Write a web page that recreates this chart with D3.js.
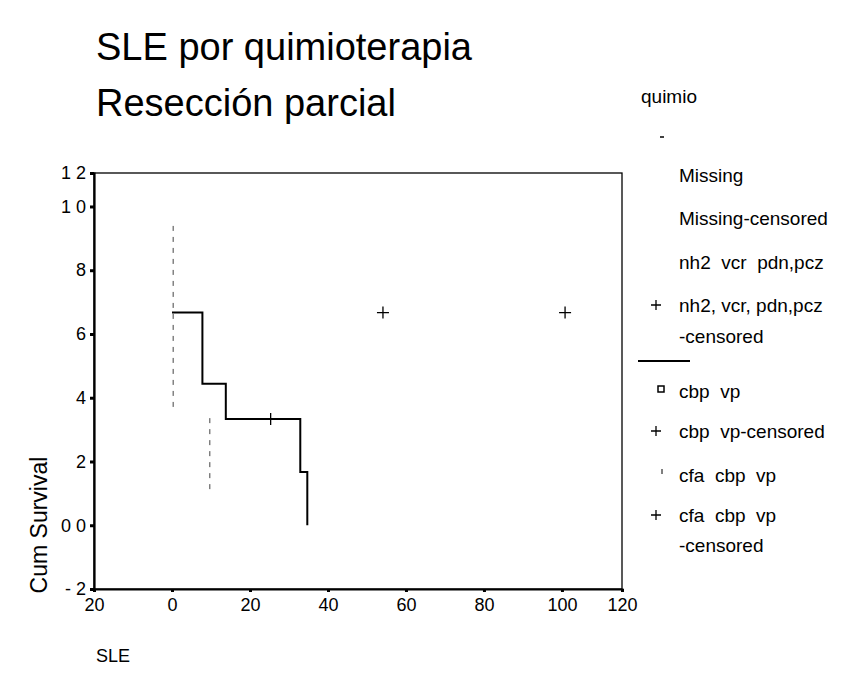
<!DOCTYPE html>
<html>
<head>
<meta charset="utf-8">
<script src="https://cdn.jsdelivr.net/npm/d3@7"></script>
<style>
  body { margin: 0; background: #fff; }
  text { font-family: Arial, "Liberation Sans", sans-serif; fill: #000; }
</style>
</head>
<body>
<script>
var settings = {
  width: 844,
  height: 688,
  left: 94,
  right: 622,
  top: 173,
  bottom: 589
}

// axis ticks (the last tick on each axis sits on the frame edge)
var xTicks = [-20, 0, 20, 40, 60, 80, 100, 115.4];
var xTickLabels = ['20', '0', '20', '40', '60', '80', '100', '120'];
var yTicks = [-2, 0, 2, 4, 6, 8, 10, 11.05];
var yTickLabels = ['- 2', '0 0', '2', '4', '6', '8', '1 0', '1 2'];

// cbp vp survival steps
var cbpTimes = [0, 7.8, 13.8, 32.9, 34.7];
var cbpSurv = [6.67, 4.44, 3.33, 1.67, 0];
var cbpCensTimes = [25.3];
var cbpCensSurv = [3.33];

// nh2, vcr, pdn,pcz censored
var nh2CensTimes = [54.1, 100.8];
var nh2CensSurv = [6.67, 6.67];

// faint dashed curves
var missingTimes = [0.3, 0.3];
var missingSurv = [9.39, 3.61];
var cfaTimes = [9.7, 9.7];
var cfaSurv = [3.36, 1.1];

var legendLabels = ['Missing', 'Missing-censored', 'nh2  vcr  pdn,pcz', 'nh2, vcr, pdn,pcz',
  '-censored', 'cbp  vp', 'cbp  vp-censored', 'cfa  cbp  vp', 'cfa  cbp  vp', '-censored'];

var svg = d3.select('body').append('svg')
  .attr('width', settings.width)
  .attr('height', settings.height);

var x = d3.scaleLinear().domain([-20, 115.4]).range([settings.left, settings.right]);
var y = d3.scaleLinear().domain([-2, 11.05]).range([settings.bottom, settings.top]);

// titles
svg.append('text').attr('x', 96).attr('y', 60)
  .style('font-size', '38px').text('SLE por quimioterapia');
svg.append('text').attr('x', 96).attr('y', 116)
  .style('font-size', '38px').text('Resección parcial');

// frame
svg.append('rect')
  .attr('x', settings.left)
  .attr('y', settings.top)
  .attr('width', settings.right - settings.left)
  .attr('height', settings.bottom - settings.top)
  .style('fill', 'none')
  .style('stroke', '#000')
  .style('stroke-width', 1.3);

var xAxis = d3.axisBottom(x).tickValues(xTicks).tickSize(3).tickPadding(6)
  .tickFormat(function(d, i){ return xTickLabels[i]; });
svg.append('g').attr('transform', 'translate(0,' + settings.bottom + ')').call(xAxis)
  .call(function(g){ g.select('.domain').attr('stroke-width', 2.2); })
  .selectAll('text').style('font-size', '18px').style('font-family', 'Arial, "Liberation Sans", sans-serif');

var yAxis = d3.axisLeft(y).tickValues(yTicks).tickSize(4).tickPadding(4)
  .tickFormat(function(d, i){ return yTickLabels[i]; });
svg.append('g').attr('transform', 'translate(' + settings.left + ',0)').call(yAxis)
  .call(function(g){ g.select('.domain').attr('stroke-width', 2.2); })
  .selectAll('text').style('font-size', '18px').style('white-space', 'pre')
  .style('font-family', 'Arial, "Liberation Sans", sans-serif');

svg.selectAll('.tick line').attr('stroke-width', 3);

// axis titles
svg.append('text')
  .attr('transform', 'translate(47,525) rotate(-90)')
  .attr('text-anchor', 'middle')
  .style('font-size', '23px').text('Cum Survival');
svg.append('text').attr('x', 96).attr('y', 662)
  .style('font-size', '18px').text('SLE');

// dashed curves
var vline = d3.line().x(function(d){ return x(d[0]); }).y(function(d){ return y(d[1]); });
[[missingTimes, missingSurv], [cfaTimes, cfaSurv]].forEach(function(c){
  svg.append('path')
    .attr('d', vline(d3.zip(c[0], c[1])))
    .style('fill', 'none')
    .style('stroke', '#444')
    .style('stroke-width', 1)
    .style('stroke-dasharray', '5,6');
});

// step curve
var step = d3.line().curve(d3.curveStepAfter)
  .x(function(d){ return x(d[0]); })
  .y(function(d){ return y(d[1]); });
svg.append('path')
  .attr('d', step(d3.zip(cbpTimes, cbpSurv)))
  .style('fill', 'none')
  .style('stroke', '#000')
  .style('stroke-width', 2);

// censor marks
function plus(g, cx, cy, s){
  g.append('path')
    .attr('d', 'M' + (cx - s) + ',' + cy + 'H' + (cx + s) + 'M' + cx + ',' + (cy - s) + 'V' + (cy + s))
    .style('stroke', '#000').style('stroke-width', 1.3).style('fill', 'none');
}
d3.zip(cbpCensTimes, cbpCensSurv).forEach(function(d){ plus(svg, x(d[0]), y(d[1]), 6); });
d3.zip(nh2CensTimes, nh2CensSurv).forEach(function(d){ plus(svg, x(d[0]), y(d[1]), 6); });

// legend
var lg = svg.append('g');
lg.append('text').attr('x', 641).attr('y', 103).style('font-size', '19px').text('quimio');
lg.append('path').attr('d', 'M660,137H664').style('stroke', '#000').style('stroke-width', 1.5);

var legendY = [182, 225, 269, 312, 343, 398, 438, 482, 522, 552];
lg.selectAll('text.item').data(legendLabels).enter().append('text')
  .attr('class', 'item')
  .attr('x', 679)
  .attr('y', function(d, i){ return legendY[i]; })
  .style('font-size', '19px')
  .style('white-space', 'pre')
  .text(function(d){ return d; });

plus(lg, 656, legendY[3] - 7, 5);
lg.append('path').attr('d', 'M638,361H690').style('stroke', '#000').style('stroke-width', 2);
lg.append('rect').attr('x', 658).attr('y', legendY[5] - 12).attr('width', 6).attr('height', 6)
  .style('fill', 'none').style('stroke', '#000').style('stroke-width', 1.5);
plus(lg, 656, legendY[6] - 7, 5);
lg.append('path').attr('d', 'M662,' + (legendY[7] - 13) + 'V' + (legendY[7] - 8))
  .style('stroke', '#000').style('stroke-width', 1);
plus(lg, 656, legendY[8] - 7, 5);
</script>
</body>
</html>
